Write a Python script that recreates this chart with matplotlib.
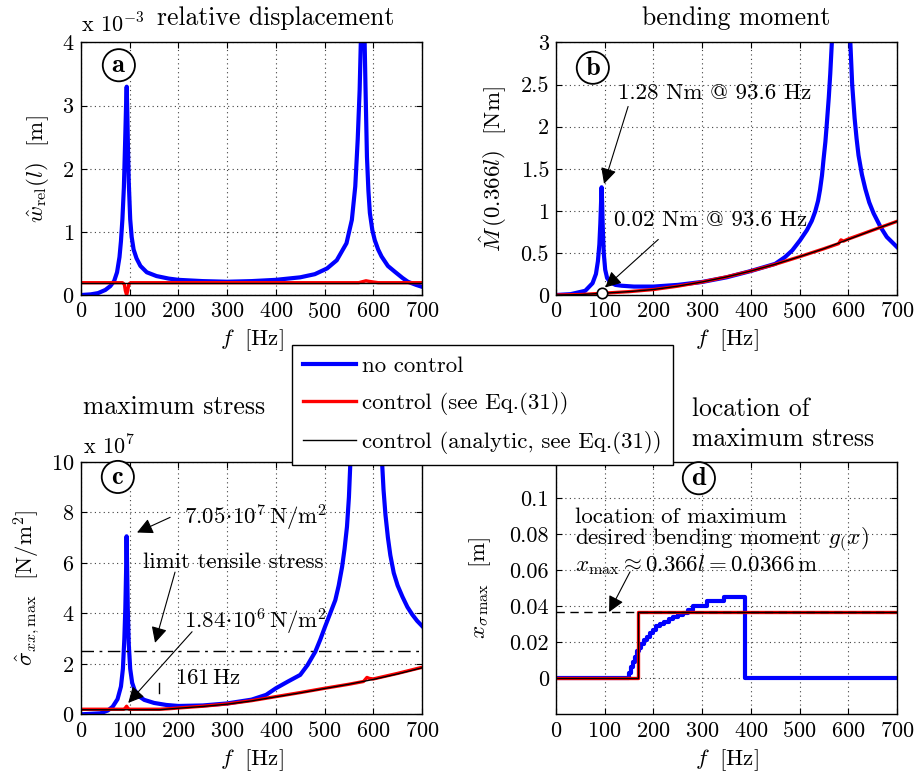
import numpy as np
import matplotlib
matplotlib.use('Agg')
import matplotlib.pyplot as plt

plt.rcParams['font.family'] = ['cmr10', 'DejaVu Serif']
plt.rcParams['mathtext.fontset'] = 'cm'
plt.rcParams['axes.formatter.use_mathtext'] = True
plt.rcParams['font.size'] = 16

# ---- data ----
# (a) relative displacement, units of 1e-3 m
f_a_blue = [0, 20, 35, 50, 60, 68, 74, 79, 82, 85, 88, 90.5, 92.5, 93.8, 95, 96.5, 98, 101, 104, 108, 114,
            122, 135, 155, 180, 200, 250, 300, 350, 400, 450, 480, 505, 525, 545, 556, 563, 568, 572, 575,
            578, 581, 584, 587, 590, 593, 598, 603, 610, 617, 630, 644, 660, 671, 688, 700]
w_a_blue = [0, 0.01, 0.03, 0.08, 0.14, 0.22, 0.36, 0.6, 0.85, 1.2, 1.7, 2.4, 3.0, 3.3, 2.9, 2.3, 1.8, 1.2,
            0.92, 0.72, 0.58, 0.46, 0.36, 0.3, 0.26, 0.24, 0.22, 0.21, 0.22, 0.24, 0.28, 0.33, 0.42, 0.55,
            0.82, 1.19, 1.72, 2.46, 3.25, 4.2, 5.0, 4.5, 3.3, 2.19, 1.65, 1.3, 1.03, 0.87, 0.72, 0.61, 0.46,
            0.37, 0.27, 0.21, 0.16, 0.13]
f_a_red = [0, 85, 89, 91, 93.6, 96, 98, 102, 570, 585, 592, 610, 700]
w_a_red = [0.195, 0.195, 0.17, 0.07, 0.0, 0.07, 0.17, 0.195, 0.195, 0.225, 0.215, 0.195, 0.195]
f_a_black = [0, 700]
w_a_black = [0.195, 0.195]

# (b) bending moment at 0.366 l, Nm
f_b_blue = [0, 30, 60, 75, 82, 86, 89, 91, 92.5, 93.6, 94.7, 96, 98, 101, 105, 112, 122, 135, 160, 200,
            250, 300, 350, 400, 450, 470, 485, 501, 515, 525, 532, 538, 542, 546, 549, 553, 556, 560, 563,
            568, 575, 585, 595, 604, 608, 613, 617, 621, 628, 635, 643, 652, 666, 679, 700]
M_b_blue = [0, 0.01, 0.05, 0.14, 0.25, 0.4, 0.6, 0.85, 1.1, 1.28, 1.1, 0.8, 0.5, 0.3, 0.2, 0.15, 0.12, 0.11,
            0.1, 0.1, 0.12, 0.155, 0.21, 0.285, 0.37, 0.45, 0.53, 0.65, 0.77, 0.88, 0.99, 1.12, 1.25, 1.42,
            1.6, 1.82, 2.04, 2.35, 2.63, 3.2, 4.2, 5.5, 4.5, 3.03, 2.5, 2.1, 1.86, 1.66, 1.43, 1.26, 1.1,
            0.97, 0.81, 0.69, 0.57]
f_b_red = [0, 50, 93.6, 150, 200, 250, 300, 350, 400, 450, 500, 550, 580, 585, 590, 600, 650, 700]
M_b_red = [0.0, 0.005, 0.02, 0.04, 0.065, 0.105, 0.155, 0.215, 0.285, 0.365, 0.455, 0.55, 0.61, 0.655,
           0.64, 0.665, 0.77, 0.875]
f_b_black = [0, 50, 93.6, 150, 200, 250, 300, 350, 400, 450, 500, 550, 600, 650, 700]
M_b_black = [0.0, 0.005, 0.02, 0.04, 0.065, 0.105, 0.155, 0.215, 0.285, 0.365, 0.455, 0.55, 0.66, 0.77, 0.875]

# (c) maximum stress, units of 1e7 N/m^2
f_c_blue = [0, 40, 55, 65, 75, 82, 86, 89, 91, 92.5, 93.6, 94.7, 96, 98, 101, 105, 110, 120, 130, 150,
            175, 200, 250, 300, 350, 380, 400, 425, 450, 465, 481, 491, 501, 511, 522, 529, 536, 541, 546,
            550, 553, 565, 585, 605, 618, 621, 625, 630, 635, 642, 650, 660, 670, 680, 690, 700]
s_c_blue = [0, 0.04, 0.15, 0.3, 0.6, 1.1, 1.8, 3.0, 4.2, 5.6, 7.05, 5.8, 4.2, 2.8, 1.8, 1.25, 0.96, 0.7,
            0.57, 0.45, 0.37, 0.33, 0.35, 0.43, 0.58, 0.77, 1.03, 1.3, 1.56, 1.95, 2.48, 2.95, 3.47, 3.97,
            4.52, 5.1, 5.84, 6.55, 7.43, 8.6, 10.0, 14, 18, 14, 10.0, 8.9, 7.9, 7.0, 6.3, 5.6, 5.1, 4.65,
            4.25, 3.95, 3.7, 3.5]
f_c_red = [0, 88, 91, 93.6, 96, 99, 161, 180, 200, 250, 300, 350, 400, 450, 500, 550, 580, 587, 592, 600,
           650, 700]
s_c_red = [0.2, 0.2, 0.25, 0.32, 0.25, 0.2, 0.2, 0.22, 0.25, 0.32, 0.41, 0.54, 0.7, 0.86, 1.03, 1.19, 1.3,
           1.46, 1.42, 1.4, 1.62, 1.86]
f_c_black = [0, 161, 180, 200, 250, 300, 350, 400, 450, 500, 550, 600, 650, 700]
s_c_black = [0.18, 0.18, 0.21, 0.24, 0.31, 0.4, 0.53, 0.69, 0.85, 1.02, 1.19, 1.38, 1.6, 1.84]
limit_stress = 2.5

# (d) location of maximum stress, m
f_d_blue = [0, 150, 154, 158, 162, 166, 170, 175, 180, 186, 192, 199, 206, 214, 222, 231, 240, 250, 260,
            270, 282, 310, 345, 388, 700]
x_d_blue = [0, 0.003, 0.006, 0.009, 0.012, 0.015, 0.017, 0.019, 0.021, 0.023, 0.025, 0.027, 0.029, 0.03,
            0.031, 0.033, 0.034, 0.035, 0.036, 0.038, 0.04, 0.043, 0.045, 0, 0]
f_d_ctrl = [0, 168, 700]
x_d_ctrl = [0, 0.0366, 0.0366]
x_desired = 0.0366

W, H = 915, 784
BLUE, RED = '#0000ff', '#ff0000'
LW_B, LW_R, LW_K = 3.0, 2.4, 1.0
FS = 16.5      # labels, annotations, legend
FS_T = 18.5    # panel titles
FS_TK = 16     # tick labels


def fx(px):
    return px / W


def fy(py):
    return 1 - py / H


def style_axes(ax, ylim, yticks, label, lab_pos):
    ax.set_xlim(0, 700)
    ax.set_ylim(*ylim)
    ax.set_xticks(range(0, 701, 100))
    ax.set_yticks(yticks)
    ax.grid(True, linestyle=(0, (1, 3)), color='0.25', linewidth=0.8)
    ax.tick_params(direction='in', length=4, top=True, right=True, labelsize=FS_TK, pad=5)
    for s in ax.spines.values():
        s.set_linewidth(1.0)
    ax.set_xlabel(r'$f\;$ [Hz]', fontsize=FS, labelpad=4)
    ax.text(lab_pos[0], lab_pos[1], r'$\mathbf{%s}$' % label, transform=ax.transAxes, fontsize=19,
            ha='center', va='center', zorder=10,
            bbox=dict(boxstyle='circle,pad=0.16', fc='white', ec='black', lw=1.3))


fig = plt.figure(figsize=(W / 100, H / 100), dpi=100)
w_ax, h_ax = 341 / W, 252.5 / H
ax_a = fig.add_axes([fx(81), fy(295), w_ax, h_ax])
ax_b = fig.add_axes([fx(556), fy(295), w_ax, h_ax])
ax_c = fig.add_axes([fx(81), fy(714.3), w_ax, h_ax])
ax_d = fig.add_axes([fx(556), fy(714.3), w_ax, h_ax])

# (a)
h1, = ax_a.plot(f_a_blue, w_a_blue, color=BLUE, lw=LW_B, label='no control')
h2, = ax_a.plot(f_a_red, w_a_red, color=RED, lw=LW_R, label='control (see Eq.(31))')
h3, = ax_a.plot(f_a_black, w_a_black, color='k', lw=LW_K, label='control (analytic, see Eq.(31))')
style_axes(ax_a, (0, 4), [0, 1, 2, 3, 4], 'a', (0.111, 0.91))
ax_a.set_ylabel(r'$\hat{w}_{\mathrm{rel}}(l)$  [m]', fontsize=FS, labelpad=8)

# (b)
ax_b.plot(f_b_blue, M_b_blue, color=BLUE, lw=LW_B)
ax_b.plot(f_b_red, M_b_red, color=RED, lw=LW_R)
ax_b.plot(f_b_black, M_b_black, color='k', lw=LW_K)
ax_b.plot([93.6], [0.02], 'o', ms=7.5, mfc='white', mec='k', mew=1.2, zorder=6, clip_on=False)
style_axes(ax_b, (0, 3), [0, 0.5, 1, 1.5, 2, 2.5, 3], 'b', (0.108, 0.9))
ax_b.set_yticklabels(['0', '0.5', '1', '1.5', '2', '2.5', '3'])
ax_b.set_ylabel(r'$\hat{M}\,(0.366l)$  [Nm]', fontsize=FS, labelpad=8)
arrow = dict(arrowstyle='-|>', color='k', lw=0.8, mutation_scale=24, shrinkA=0, shrinkB=0)
ax_b.annotate('', xy=(98.6, 1.32), xytext=(148, 2.24), arrowprops=arrow)
ax_b.text(127, 2.4, '1.28 Nm @ 93.6 Hz', fontsize=FS, va='center')
ax_b.annotate('', xy=(101, 0.09), xytext=(210, 0.66), arrowprops=arrow)
ax_b.text(119, 0.89, '0.02 Nm @ 93.6 Hz', fontsize=FS, va='center')

# (c)
ax_c.plot(f_c_blue, s_c_blue, color=BLUE, lw=LW_B)
ax_c.plot(f_c_red, s_c_red, color=RED, lw=LW_R)
ax_c.plot(f_c_black, s_c_black, color='k', lw=LW_K)
ax_c.axhline(limit_stress, color='k', lw=1.0, linestyle=(0, (9, 4, 2, 4)))
ax_c.plot([161, 161], [0.83, 1.23], color='k', lw=1.0)
style_axes(ax_c, (0, 10), [0, 2, 4, 6, 8, 10], 'c', (0.108, 0.94))
ax_c.set_ylabel(r'$\hat{\sigma}_{xx,\mathrm{max}}$  [N/m$^2$]', fontsize=FS, labelpad=6)
ax_c.annotate('', xy=(115, 7.2), xytext=(183, 7.8), arrowprops=arrow)
ax_c.text(212, 7.77, r'$7.05\!\cdot\!10^7\,\mathrm{N/m^2}$', fontsize=FS, va='center')
ax_c.annotate('', xy=(152, 2.83), xytext=(193, 5.63), arrowprops=arrow)
ax_c.text(127, 6.03, 'limit tensile stress', fontsize=FS, va='center')
ax_c.annotate('', xy=(97, 0.45), xytext=(228, 3.27), arrowprops=arrow)
ax_c.text(212, 3.65, r'$1.84\!\cdot\!10^6\,\mathrm{N/m^2}$', fontsize=FS, va='center')
ax_c.text(193, 1.44, r'$161\,\mathrm{Hz}$', fontsize=FS, va='center')

# (d)
ax_d.plot(f_d_blue, x_d_blue, color=BLUE, lw=LW_B, drawstyle='steps-post')
ax_d.plot(f_d_ctrl, x_d_ctrl, color=RED, lw=LW_R, drawstyle='steps-post')
ax_d.plot(f_d_ctrl, x_d_ctrl, color='k', lw=LW_K, drawstyle='steps-post')
ax_d.axhline(x_desired, color='k', lw=1.0, linestyle=(0, (6, 4)))
style_axes(ax_d, (-0.02, 0.12), [0, 0.02, 0.04, 0.06, 0.08, 0.1], 'd', (0.419, 0.935))
ax_d.set_yticklabels(['0', '0.02', '0.04', '0.06', '0.08', '0.1'])
ax_d.set_ylabel(r'$x_{\sigma\,\mathrm{max}}$  [m]', fontsize=FS, labelpad=12)
ax_d.annotate('', xy=(109, 0.0367), xytext=(152, 0.059), arrowprops=arrow)
ax_d.text(39, 0.0755, 'location of maximum\n'
          r'desired bending moment $g_{(}x)$' '\n'
          r'$x_{\mathrm{max}} \approx 0.366l = 0.0366\,\mathrm{m}$',
          fontsize=FS, va='center', linespacing=0.92)

# titles / multipliers
fig.text(fx(81), fy(24), r'x $10^{-3}$', fontsize=16, va='center')
fig.text(fx(157), fy(18), 'relative displacement', fontsize=FS_T, va='center')
fig.text(fx(642), fy(18), 'bending moment', fontsize=FS_T, va='center')
fig.text(fx(83), fy(407), 'maximum stress', fontsize=FS_T, va='center')
fig.text(fx(83), fy(446), r'x $10^{7}$', fontsize=16, va='center')
fig.text(fx(692), fy(424), 'location of\nmaximum stress', fontsize=FS_T, va='center', linespacing=1.3)

# legend
leg = fig.legend(handles=[h1, h2, h3], loc='upper left', bbox_to_anchor=(fx(291.7), fy(345)),
                 borderaxespad=0, fancybox=False, edgecolor='k', framealpha=1, fontsize=FS,
                 handlelength=2.3, handletextpad=0.25, labelspacing=0.68, borderpad=0.5)
leg.get_frame().set_linewidth(1.0)

fig.savefig('out.png', dpi=100)
